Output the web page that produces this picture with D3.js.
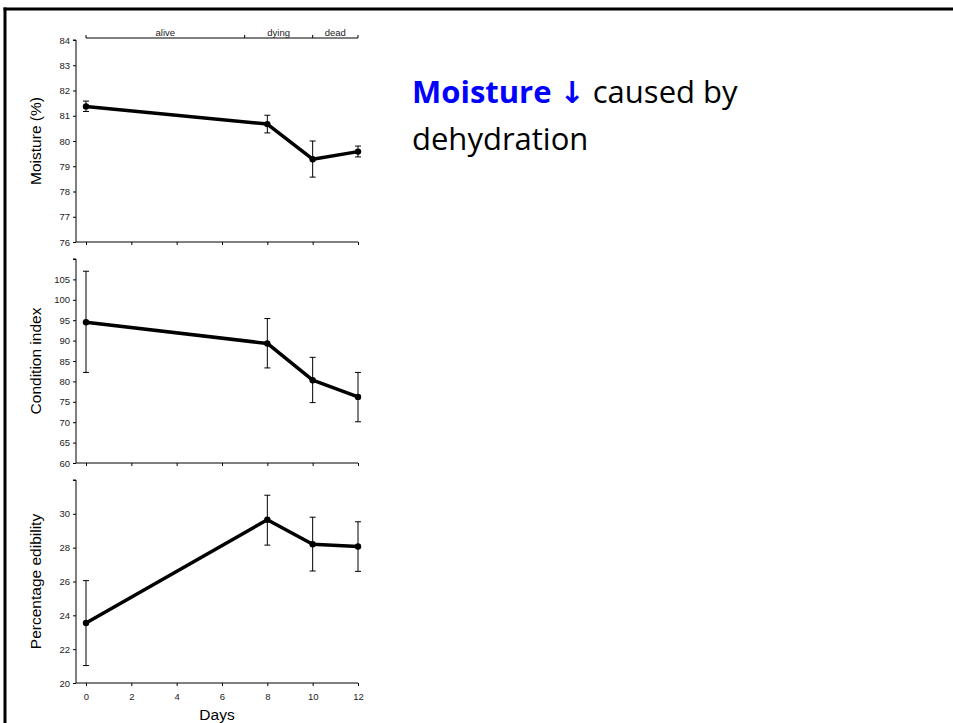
<!DOCTYPE html>
<html>
<head>
<meta charset="utf-8">
<script src="https://cdn.jsdelivr.net/npm/d3@7"></script>
<style>
  html, body { margin: 0; padding: 0; background: #fff; }
  svg { display: block; }
</style>
</head>
<body>
<svg id="chart" width="953" height="723"></svg>
<script>
// Sampling days
const days = [0, 8, 10, 12];
const dayTicks = [0, 2, 4, 6, 8, 10, 12];

// Moisture (%) — mean with lower / upper error bounds
const moistureMean = [81.37, 80.67, 79.28, 79.58];
const moistureLow  = [81.17, 80.32, 78.57, 79.37];
const moistureHigh = [81.58, 81.02, 80.00, 79.80];
const moistureTicks = [76, 77, 78, 79, 80, 81, 82, 83, 84];

// Condition index
const conditionMean = [94.5, 89.3, 80.3, 76.2];
const conditionLow  = [82.2, 83.3, 74.8, 70.1];
const conditionHigh = [107.0, 95.4, 85.9, 82.2];
const conditionTicks = [60, 65, 70, 75, 80, 85, 90, 95, 100, 105, 110];
const conditionLabels = ["60", "65", "70", "75", "80", "85", "90", "95", "100", "105", ""];

// Percentage edibility
const edibilityMean = [23.55, 29.65, 28.2, 28.07];
const edibilityLow  = [21.03, 28.15, 26.62, 26.6];
const edibilityHigh = [26.05, 31.1, 29.8, 29.53];
const edibilityTicks = [20, 22, 24, 26, 28, 30, 32];
const edibilityLabels = ["20", "22", "24", "26", "28", "30", ""];

// Condition stages marked along the top (day boundaries)
const stageBounds = [0, 7, 10, 12];
const stageNames = ["alive", "dying", "dead"];

const svg = d3.select("#chart");
const axisFont = "'Liberation Sans', Arial, sans-serif";

// slide frame
svg.append("line").attr("x1", 3.5).attr("x2", 953).attr("y1", 9).attr("y2", 9)
  .attr("stroke", "#000").attr("stroke-width", 3);
svg.append("line").attr("x1", 5).attr("x2", 5).attr("y1", 7.5).attr("y2", 723)
  .attr("stroke", "#000").attr("stroke-width", 3);

const x = d3.scaleLinear().domain([0, 12]).range([86, 358]);
const axisLeftX = 76;

const panels = [
  { title: "Moisture (%)", mean: moistureMean, low: moistureLow, high: moistureHigh,
    domain: [76, 84], top: 40, bottom: 242, ticks: moistureTicks,
    labels: moistureTicks.map(String), showX: false },
  { title: "Condition index", mean: conditionMean, low: conditionLow, high: conditionHigh,
    domain: [60, 110], top: 259, bottom: 463, ticks: conditionTicks,
    labels: conditionLabels, showX: false },
  { title: "Percentage edibility", mean: edibilityMean, low: edibilityLow, high: edibilityHigh,
    domain: [20, 32], top: 480, bottom: 683, ticks: edibilityTicks,
    labels: edibilityLabels, showX: true }
];

panels.forEach(p => {
  const y = d3.scaleLinear().domain(p.domain).range([p.bottom, p.top]);
  const g = svg.append("g");

  // y axis
  const yAxis = d3.axisLeft(y).tickValues(p.ticks)
    .tickFormat((d, i) => p.labels[i]).tickSize(3).tickPadding(3);
  const ya = g.append("g").attr("transform", `translate(${axisLeftX},0)`).call(yAxis);
  ya.select(".domain").attr("d", `M-3,${p.top}H0V${p.bottom}`);

  // x axis
  const xAxis = d3.axisBottom(x).tickValues(dayTicks).tickSize(3).tickPadding(7)
    .tickFormat(p.showX ? d3.format("d") : () => "");
  const xa = g.append("g").attr("transform", `translate(0,${p.bottom})`).call(xAxis);
  xa.select(".domain").attr("d", `M${axisLeftX},0H${x(12)}`);

  [ya, xa].forEach(a => {
    a.selectAll("path, line").attr("stroke", "#000").attr("stroke-width", 1);
    a.selectAll("text").attr("font-family", axisFont).attr("font-size", 9.5).attr("fill", "#222");
  });

  // axis title
  g.append("text")
    .attr("transform", `translate(41,${(p.top + p.bottom) / 2}) rotate(-90)`)
    .attr("text-anchor", "middle")
    .attr("font-family", axisFont).attr("font-size", 15.5).attr("fill", "#000")
    .text(p.title);

  // error bars
  days.forEach((d, i) => {
    const cx = x(d);
    g.append("line").attr("x1", cx).attr("x2", cx)
      .attr("y1", y(p.low[i])).attr("y2", y(p.high[i]))
      .attr("stroke", "#000").attr("stroke-width", 1);
    [p.low[i], p.high[i]].forEach(v => {
      g.append("line").attr("x1", cx - 3).attr("x2", cx + 3)
        .attr("y1", y(v)).attr("y2", y(v))
        .attr("stroke", "#000").attr("stroke-width", 1);
    });
  });

  // mean line
  const line = d3.line().x((d, i) => x(days[i])).y(d => y(d));
  g.append("path").datum(p.mean).attr("d", line)
    .attr("fill", "none").attr("stroke", "#000").attr("stroke-width", 3.5)
    .attr("stroke-linejoin", "round");

  // points
  g.selectAll("circle.pt").data(p.mean).enter().append("circle")
    .attr("class", "pt")
    .attr("cx", (d, i) => x(days[i])).attr("cy", d => y(d)).attr("r", 3.2)
    .attr("fill", "#000");

  if (p.showX) {
    g.append("text").attr("x", 217).attr("y", 720)
      .attr("text-anchor", "middle")
      .attr("font-family", axisFont).attr("font-size", 15.5).attr("fill", "#000")
      .text("Days");
  }
});

// stage bracket along the top
const stageY = 38;
svg.append("line").attr("x1", x(stageBounds[0])).attr("x2", x(stageBounds[stageBounds.length - 1]))
  .attr("y1", stageY).attr("y2", stageY).attr("stroke", "#000").attr("stroke-width", 1);
stageBounds.forEach(b => {
  svg.append("line").attr("x1", x(b)).attr("x2", x(b))
    .attr("y1", stageY - 3).attr("y2", stageY)
    .attr("stroke", "#000").attr("stroke-width", 1);
});
stageNames.forEach((n, i) => {
  svg.append("text")
    .attr("x", (x(stageBounds[i]) + x(stageBounds[i + 1])) / 2)
    .attr("y", stageY - 2.5)
    .attr("text-anchor", "middle")
    .attr("font-family", axisFont).attr("font-size", 9.5).attr("fill", "#222")
    .text(n);
});

// annotation text
const noteFont = "'Open Sans', 'Noto Sans', sans-serif";
const note = svg.append("text").attr("x", 412).attr("y", 103)
  .attr("font-family", noteFont).attr("font-size", 31);
note.append("tspan").attr("fill", "#0000ff").attr("font-weight", "bold").text("Moisture ");
note.append("tspan").attr("fill", "#0000ff").attr("font-weight", "bold")
  .attr("font-family", "'DejaVu Sans', sans-serif").attr("font-size", 30).text("↓");
note.append("tspan").attr("fill", "#000").text(" caused by");
svg.append("text").attr("x", 412).attr("y", 150)
  .attr("font-family", noteFont).attr("font-size", 31).attr("fill", "#000")
  .text("dehydration");
</script>
</body>
</html>
